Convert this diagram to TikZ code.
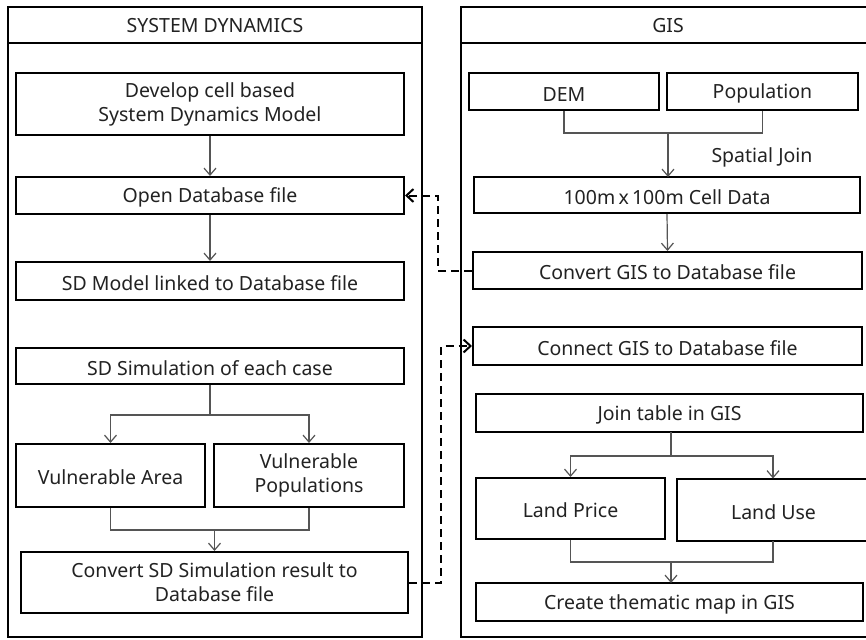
\documentclass[tikz,border=0pt]{standalone}
\usepackage{fontspec}
\setmainfont{Noto Sans}
\usetikzlibrary{arrows.meta}
\definecolor{txt}{HTML}{222222}
\definecolor{conn}{HTML}{555555}
\tikzset{
  box/.style={draw=black, line width=2pt, inner sep=0pt, text=txt, align=center,
    font=\fontsize{19.5}{24}\selectfont, execute at begin node={\rule{0pt}{0.98em}}},
  panel/.style={draw=black, line width=2pt},
  flow/.style={draw=conn, line width=1.2pt},
  flowarrow/.style={flow, -{Straight Barb[length=7pt,width=12pt,line width=1.2pt]}},
  link/.style={draw=black, line width=2pt, dash pattern=on 8pt off 5pt,
    -{Straight Barb[length=7pt,width=13pt,line width=2pt]}},
  lbl/.style={text=txt, font=\fontsize{19.5}{24}\selectfont}
}
\begin{document}
\begin{tikzpicture}[x=1pt,y=-1pt]
\useasboundingbox (0,0) rectangle (866,639);
\fill[white] (0,0) rectangle (866,639);
% panels
\draw[panel] (8,7) rectangle (422,637);
\draw[panel] (8,43) -- (422,43);
\node[lbl] (sdh) at (215,26) {SYSTEM DYNAMICS};
\draw[panel] (870,7) -- (461,7) -- (461,637) -- (870,637);
\draw[panel] (461,43) -- (870,43);
\node[lbl] (gish) at (668,26) {GIS};
% left boxes
\node[box, minimum width=388pt, minimum height=62pt] (dev) at (210,104) {Develop cell based\\System Dynamics Model};
\node[box, minimum width=388pt, minimum height=37pt] (open) at (210,195.5) {Open Database file};
\node[box, minimum width=388pt, minimum height=38pt] (sdm) at (210,281) {SD Model linked to Database file};
\node[box, minimum width=388pt, minimum height=36pt] (sim) at (210,366) {SD Simulation of each case};
\node[box, minimum width=189pt, minimum height=63pt] (va) at (110.5,475.5) {Vulnerable Area};
\node[box, minimum width=190pt, minimum height=63pt] (vp) at (309,475.5) {Vulnerable\\Populations};
\node[box, minimum width=387pt, minimum height=61pt] (conv) at (214.5,582.5) {Convert SD Simulation result to\\Database file};
% right boxes
\node[box, minimum width=190pt, minimum height=37pt] (dem) at (564,91.5) {DEM};
\node[box, minimum width=191pt, minimum height=37pt] (pop) at (762.5,91.5) {Population};
\node[box, minimum width=386pt, minimum height=36pt] (cell) at (667,195) {100m\,x\,100m Cell Data};
\node[box, minimum width=389pt, minimum height=37pt] (cgis) at (667.5,270.5) {Convert GIS to Database file};
\node[box, minimum width=389pt, minimum height=38pt] (cngis) at (667.5,346) {Connect GIS to Database file};
\node[box, minimum width=387pt, minimum height=38pt] (join) at (669.5,413) {Join table in GIS};
\node[box, minimum width=189pt, minimum height=61pt] (lp) at (570.5,508.5) {Land Price};
\node[box, minimum width=193pt, minimum height=62pt] (lu) at (773.5,510) {Land Use};
\node[box, minimum width=387pt, minimum height=38pt] (thm) at (669.5,602) {Create thematic map in GIS};
\node[lbl] (sj) at (762,157) {Spatial Join};
% left flow
\draw[flowarrow] (dev.south) -- (open.north);
\draw[flowarrow] (open.south) -- (sdm.north);
\draw[flow] (sim.south) -- (210,415) coordinate (b1);
\draw[flowarrow] (b1) -| (va.north);
\draw[flowarrow] (b1) -| (vp.north);
\draw[flow] (va.south) |- (214.5,530) coordinate (m1);
\draw[flow] (vp.south) |- (m1);
\draw[flowarrow] (m1) -- (conv.north);
% right flow
\draw[flow] (dem.south) |- (668,133) coordinate (m2);
\draw[flow] (pop.south) |- (m2);
\draw[flowarrow] (m2) -- (668,177);
\draw[flowarrow] (cell.south) -- (cgis.north);
\draw[flow] (671,432) -- (671,456) coordinate (b2);
\draw[flowarrow] (b2) -| (lp.north);
\draw[flowarrow] (b2) -| (773,478.5);
\draw[flow] (lp.south) |- (671,562) coordinate (m3);
\draw[flow] (773,541) |- (m3);
\draw[flowarrow] (m3) -- (671,583);
% dashed links
\draw[link] (cgis.west) -- (438,270.5) -- (438,195.5) -- (open.east);
\draw[link] (conv.east) -- (441,582.5) -- (441,346) -- (cngis.west);
\end{tikzpicture}
\end{document}
